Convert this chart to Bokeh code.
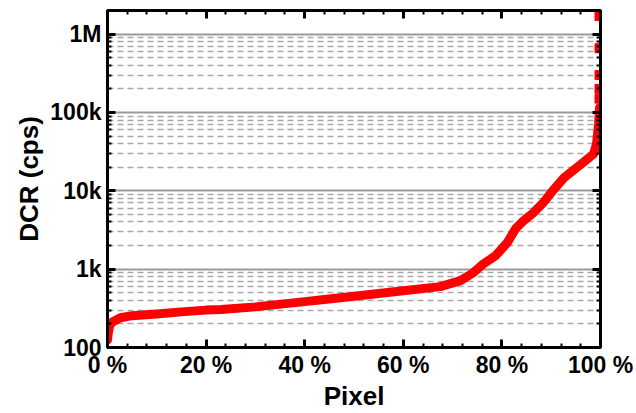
from bokeh.plotting import figure
from bokeh.models import Range1d, FixedTicker, LinearAxis, LogAxis
from bokeh.embed import file_html
from bokeh.resources import INLINE

# Sorted dark count rate per pixel (share of pixels in %, DCR in cps)
pixel_pct = [0.0, 0.2, 0.5, 1.0, 2.6, 5.0, 10.0, 15.0, 20.0, 23.0, 30.0, 40.0,
             44.0, 50.0, 60.0, 67.5, 71.6, 74.2, 76.3, 78.7, 81.1, 82.8, 84.4,
             86.4, 88.4, 90.3, 92.6, 96.1, 98.6, 99.2, 99.6, 99.8]
dcr_cps = [125, 160, 195, 212, 240, 255, 268, 285, 300, 305, 330, 385,
           410, 450, 530, 598, 713, 900, 1175, 1480, 2180, 3300, 4150,
           5250, 7050, 10000, 14700, 22000, 29500, 40000, 71000, 115000]

# Few hottest pixels, shown as separate points
hot_pct = [99.8, 99.8, 99.8, 99.8, 99.8]
hot_cps = [150000, 200000, 300000, 660000, 1700000]

x_ticks = [0, 20, 40, 60, 80, 100]
x_tick_labels = ["0 %", "20 %", "40 %", "60 %", "80 %", "100 %"]
y_ticks = [100, 1000, 10000, 100000, 1000000]
y_tick_labels = ["100", "1k", "10k", "100k", "1M"]

x_minor = [v for v in range(0, 101, 4) if v % 20 != 0]
y_minor = [m * 10 ** e for e in range(2, 7) for m in range(2, 10)]

FONT = "Liberation Sans"

p = figure(width=636, height=413, y_axis_type="log",
           x_range=Range1d(0, 100), y_range=Range1d(100, 2.0e6),
           output_backend="svg", toolbar_location=None,
           min_border_left=107, min_border_right=36,
           min_border_top=10, min_border_bottom=66)

p.background_fill_color = "white"
p.border_fill_color = "white"
p.outline_line_color = "black"
p.outline_line_width = 3

xticker = FixedTicker(ticks=x_ticks, minor_ticks=x_minor)
yticker = FixedTicker(ticks=y_ticks, minor_ticks=y_minor)

# grid: only horizontal, solid at decades and dashed in between
p.xgrid.visible = False
p.ygrid.ticker = yticker
p.ygrid.grid_line_color = "#9a9a9a"
p.ygrid.grid_line_width = 2
p.ygrid.minor_grid_line_color = "#a8a8a8"
p.ygrid.minor_grid_line_width = 1.5
p.ygrid.minor_grid_line_dash = "6 4"


def style_axis(ax, ticker, labels=None):
    ax.ticker = ticker
    ax.axis_line_color = "black"
    ax.axis_line_width = 3
    ax.major_tick_in = 8
    ax.major_tick_out = 0
    ax.minor_tick_in = 4
    ax.minor_tick_out = 0
    ax.major_tick_line_width = 3
    ax.minor_tick_line_width = 2
    ax.major_tick_line_color = "black"
    ax.minor_tick_line_color = "black"
    if labels is None:
        ax.major_label_text_font_size = "0px"
        ax.major_label_text_color = None
    else:
        ax.major_label_overrides = labels
        ax.major_label_text_font = FONT
        ax.major_label_text_font_style = "bold"
        ax.major_label_text_font_size = "23px"
        ax.major_label_text_color = "black"


style_axis(p.xaxis[0], xticker, {v: s for v, s in zip(x_ticks, x_tick_labels)})
style_axis(p.yaxis[0], yticker, {v: s for v, s in zip(y_ticks, y_tick_labels)})
p.xaxis[0].major_label_standoff = 4
p.yaxis[0].major_label_standoff = 6

p.xaxis[0].axis_label = "Pixel"
p.yaxis[0].axis_label = "DCR (cps)"
for ax in (p.xaxis[0], p.yaxis[0]):
    ax.axis_label_text_font = FONT
    ax.axis_label_text_font_style = "bold"
    ax.axis_label_text_font_size = "26px"
    ax.axis_label_text_color = "black"
p.xaxis[0].axis_label_standoff = 0
p.yaxis[0].axis_label_standoff = 3

top_ax = LinearAxis()
style_axis(top_ax, xticker)
p.add_layout(top_ax, "above")

right_ax = LogAxis()
style_axis(right_ax, yticker)
p.add_layout(right_ax, "right")

p.line(pixel_pct, dcr_cps, line_color="#ff0000", line_width=9,
       line_join="round", line_cap="round")
p.scatter(hot_pct, hot_cps, marker="square", size=9,
          fill_color="#ff0000", line_color="#ff0000")

open("out.html", "w").write(file_html(p, INLINE))
